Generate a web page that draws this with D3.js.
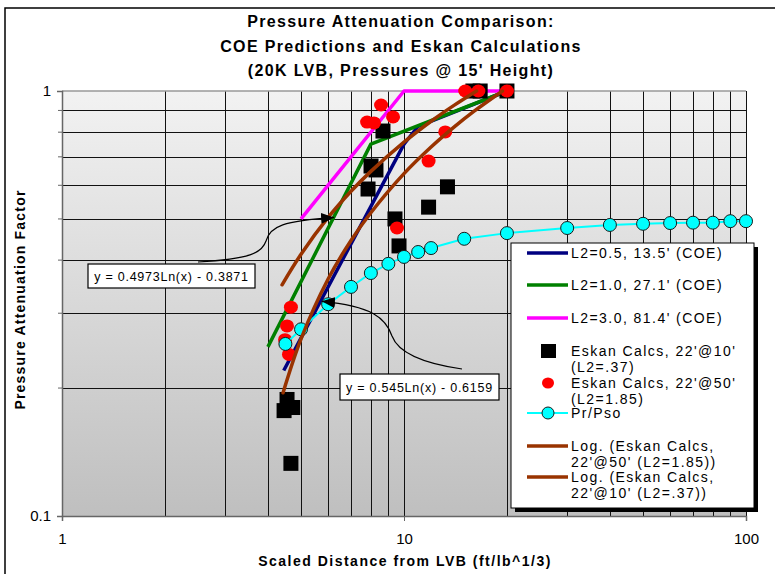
<!DOCTYPE html>
<html><head><meta charset="utf-8">
<script src="https://cdn.jsdelivr.net/npm/d3@7"></script>
<style>body{margin:0;background:#fff}svg{display:block}</style>
</head><body>
<svg id="chart" width="775" height="574"></svg>
<script>
// ---------- data ----------
const titleLines = ["Pressure Attenuation Comparison:", "COE Predictions and Eskan Calculations", "(20K LVB, Pressures @ 15' Height)"];
const xAxisTitle = "Scaled Distance from LVB (ft/lb^1/3)";
const yAxisTitle = "Pressure Attenuation Factor";
const xTickValues = [1, 10, 100];
const yTickValues = [0.1, 1];

const coe05X = [4.45, 10, 11, 20];
const coe05Y = [0.22, 0.75, 0.826, 1.0];
const coe10X = [4, 8, 20];
const coe10Y = [0.25, 0.75, 1.0];
const coe30X = [5, 10, 20];
const coe30Y = [0.5, 1.0, 1.0];

const eskan10X = [4.55, 4.73, 4.46, 4.67, 8.68, 8.01, 8.28, 7.85, 9.41, 9.67, 11.8, 13.4, 15.9, 16.7, 20];
const eskan10Y = [0.188, 0.180, 0.177, 0.133, 0.805, 0.666, 0.652, 0.588, 0.50, 0.432, 0.533, 0.595, 1.0, 1.0, 1.0];

const eskan50X = [8.57, 9.29, 7.80, 8.17, 13.2, 11.8, 9.54, 15.1, 16.5, 20, 4.67, 4.55, 4.49, 4.61];
const eskan50Y = [0.927, 0.869, 0.845, 0.841, 0.801, 0.684, 0.476, 1.0, 1.0, 1.0, 0.310, 0.280, 0.260, 0.240];

const prX = [4.5, 5, 6, 7, 8, 9, 10, 11, 12, 15, 20, 30, 40, 50, 60, 70, 80, 90, 100];
const prY = [0.254, 0.275, 0.315, 0.346, 0.373, 0.392, 0.407, 0.418, 0.427, 0.449, 0.463, 0.476, 0.484, 0.487, 0.489, 0.490, 0.490, 0.494, 0.494];

const trend50X = [4.4, 5, 6, 7, 8, 10, 12, 14, 16.3];
const trend50Y = [0.350, 0.413, 0.504, 0.581, 0.647, 0.758, 0.849, 0.925, 1.0];
const trend10X = [4.43, 5, 6, 7, 8, 10, 12, 14, 16, 19.4];
const trend10Y = [0.195, 0.261, 0.361, 0.445, 0.517, 0.639, 0.738, 0.822, 0.895, 1.0];

const eq50Label = "y = 0.4973Ln(x) - 0.3871";
const eq10Label = "y = 0.545Ln(x) - 0.6159";

const legendLabels = [
  ["L2=0.5, 13.5' (COE)"],
  ["L2=1.0, 27.1' (COE)"],
  ["L2=3.0, 81.4' (COE)"],
  ["Eskan Calcs, 22'@10'", "(L2=.37)"],
  ["Eskan Calcs, 22'@50'", "(L2=1.85)"],
  ["Pr/Pso"],
  ["Log. (Eskan Calcs,", "22'@50' (L2=1.85))"],
  ["Log. (Eskan Calcs,", "22'@10' (L2=.37))"]
];

// ---------- setup ----------
const svg = d3.select("#chart");
const W = 775, H = 574;
const plot = {l: 62, r: 746, t: 91, b: 516};
const x = d3.scaleLog().domain([1, 100]).range([plot.l, plot.r]);
const y = d3.scaleLog().domain([0.1, 1]).range([plot.b, plot.t]);
const FONT = "'Liberation Sans', Arial, sans-serif";

svg.append("rect").attr("width", W).attr("height", H).attr("fill", "#fff");

const defs = svg.append("defs");
const grad = defs.append("linearGradient").attr("id", "bg").attr("x1", 0).attr("y1", 0).attr("x2", 0).attr("y2", 1);
grad.append("stop").attr("offset", "0%").attr("stop-color", "#f2f2f2");
grad.append("stop").attr("offset", "100%").attr("stop-color", "#bfbfbf");
defs.append("marker").attr("id", "arrow").attr("markerUnits", "userSpaceOnUse")
  .attr("markerWidth", 14).attr("markerHeight", 12).attr("refX", 13).attr("refY", 5.5)
  .attr("orient", "auto")
  .append("path").attr("d", "M0,0 L13,5.5 L0,11 Z").attr("fill", "#000");

// chart frame (outer)
svg.append("path").attr("d", `M5,${H} L5,8 L${W},8`).attr("fill", "none").attr("stroke", "#000").attr("stroke-width", 1.5);

// plot background
svg.append("rect").attr("x", plot.l).attr("y", plot.t).attr("width", plot.r - plot.l).attr("height", plot.b - plot.t)
  .attr("fill", "url(#bg)");

// grid
const xGrid = [];
for (let d = 1; d <= 10; d *= 10) for (let m = 2; m <= 10; m++) xGrid.push(d * m);
const yGrid = [0.2, 0.3, 0.4, 0.5, 0.6, 0.7, 0.8, 0.9];
const g = svg.append("g");
g.selectAll("line.vx").data(xGrid).join("line")
  .attr("x1", d => Math.round(x(d)) + 0.5).attr("x2", d => Math.round(x(d)) + 0.5).attr("y1", plot.t).attr("y2", plot.b)
  .attr("stroke", "#111").attr("stroke-width", 1);
g.selectAll("line.hy").data(yGrid).join("line")
  .attr("x1", plot.l).attr("x2", plot.r).attr("y1", d => Math.round(y(d)) + 0.5).attr("y2", d => Math.round(y(d)) + 0.5)
  .attr("stroke", "#111").attr("stroke-width", 1);
svg.append("line").attr("x1", plot.l).attr("x2", plot.r).attr("y1", plot.t).attr("y2", plot.t)
  .attr("stroke", "#999").attr("stroke-width", 1.5);

// axes
const xAxis = d3.axisBottom(x).tickValues(xTickValues).tickFormat(d3.format("d")).tickSize(5).tickPadding(12);
const yAxis = d3.axisLeft(y).tickValues(yTickValues).tickFormat(d => d === 1 ? "1" : "0.1").tickSize(5).tickPadding(6);
const gx = svg.append("g").attr("transform", `translate(0,${plot.b})`).call(xAxis);
const gy = svg.append("g").attr("transform", `translate(${plot.l},0)`).call(yAxis);
[gx, gy].forEach(a => {
  a.select(".domain").attr("stroke", "#666").attr("stroke-width", 1.5);
  a.selectAll(".tick line").attr("stroke", "#666");
  a.selectAll("text").attr("font-family", FONT).attr("font-size", 15).attr("fill", "#000");
});
svg.selectAll("line.ym").data(yGrid).join("line")
  .attr("x1", plot.l - 4).attr("x2", plot.l).attr("y1", d => y(d)).attr("y2", d => y(d))
  .attr("stroke", "#666");

// ---------- series ----------
const zip = (xs, ys) => xs.map((v, i) => [v, ys[i]]);
const line = d3.line().x(d => x(d[0])).y(d => y(d[1]));
const smooth = d3.line().x(d => x(d[0])).y(d => y(d[1])).curve(d3.curveCatmullRom);

const lineSeries = [
  {data: zip(coe05X, coe05Y), color: "#000080"},
  {data: zip(coe10X, coe10Y), color: "#008000"},
  {data: zip(coe30X, coe30Y), color: "#ff00ff"}
];
lineSeries.forEach(s => svg.append("path").attr("d", line(s.data)).attr("fill", "none")
  .attr("stroke", s.color).attr("stroke-width", 3.5).attr("stroke-linejoin", "round"));

svg.selectAll("rect.sq").data(zip(eskan10X, eskan10Y)).join("rect")
  .attr("x", d => x(d[0]) - 7.5).attr("y", d => y(d[1]) - 7.5).attr("width", 15).attr("height", 15).attr("fill", "#000");

svg.selectAll("ellipse.rd").data(zip(eskan50X, eskan50Y)).join("ellipse")
  .attr("cx", d => x(d[0])).attr("cy", d => y(d[1])).attr("rx", 7).attr("ry", 6.5).attr("fill", "#ff0000");

const prData = zip(prX, prY);
svg.append("path").attr("d", line(prData)).attr("fill", "none").attr("stroke", "#00ffff").attr("stroke-width", 2);
svg.selectAll("circle.pr").data(prData).join("circle")
  .attr("cx", d => x(d[0])).attr("cy", d => y(d[1])).attr("r", 6.5)
  .attr("fill", "#00ffff").attr("stroke", "#1a1a1a").attr("stroke-width", 1);

[zip(trend50X, trend50Y), zip(trend10X, trend10Y)].forEach(dd =>
  svg.append("path").attr("d", smooth(dd)).attr("fill", "none").attr("stroke", "#993300")
    .attr("stroke-width", 3.5).attr("stroke-linecap", "round"));

// ---------- trendline equation labels ----------
function eqBox(label, bx, by, w, h) {
  svg.append("rect").attr("x", bx).attr("y", by).attr("width", w).attr("height", h)
    .attr("fill", "#fff").attr("stroke", "#000").attr("stroke-width", 1.2);
  svg.append("text").attr("x", bx + w / 2).attr("y", by + h / 2 + 4.5).attr("text-anchor", "middle")
    .attr("font-family", FONT).attr("font-size", 12.5).attr("letter-spacing", 0.75).text(label);
}
{
  const sx = 198, sy = 262, ex = x(6) + 6, ey = y(0.504);
  svg.append("path")
    .attr("d", `M${sx},${sy} C250,259 262,253 266,241 C270,226 284,221 ${ex},${ey}`)
    .attr("fill", "none").attr("stroke", "#000").attr("stroke-width", 1.2).attr("marker-end", "url(#arrow)");
}
{
  const sx = 462, sy = 369, ex = x(5.75), ey = y(0.32);
  svg.append("path")
    .attr("d", `M${sx},${sy} C420,363 398,352 392,336 C386,318 372,306 ${ex},${ey}`)
    .attr("fill", "none").attr("stroke", "#000").attr("stroke-width", 1.2).attr("marker-end", "url(#arrow)");
}
eqBox(eq50Label, 88, 264, 167, 24);
eqBox(eq10Label, 340, 374, 159, 26);

// ---------- legend ----------
const L = {x: 511, y: 243, w: 243, h: 265};
svg.append("rect").attr("x", L.x + 4).attr("y", L.y + 4).attr("width", L.w).attr("height", L.h).attr("fill", "#000");
svg.append("rect").attr("x", L.x).attr("y", L.y).attr("width", L.w).attr("height", L.h)
  .attr("fill", "#fff").attr("stroke", "#000").attr("stroke-width", 1);
const legendY = [253, 285, 318, 351, 383, 413, 446, 477];
const legendKinds = ["line", "line", "line", "square", "dot", "pr", "line", "line"];
const legendColors = ["#000080", "#008000", "#ff00ff", "#000", "#ff0000", "#00ffff", "#993300", "#993300"];
legendLabels.forEach((lines, i) => {
  const cy = legendY[i], k = legendKinds[i], c = legendColors[i];
  if (k === "line" || k === "pr") {
    svg.append("line").attr("x1", 527).attr("x2", 568).attr("y1", cy).attr("y2", cy)
      .attr("stroke", c).attr("stroke-width", k === "pr" ? 2 : 3.5);
  }
  if (k === "pr") svg.append("circle").attr("cx", 548).attr("cy", cy).attr("r", 6)
    .attr("fill", c).attr("stroke", "#1a1a1a");
  if (k === "square") svg.append("rect").attr("x", 541).attr("y", cy - 7).attr("width", 15).attr("height", 14).attr("fill", c);
  if (k === "dot") svg.append("ellipse").attr("cx", 548).attr("cy", cy).attr("rx", 6).attr("ry", 5.5).attr("fill", c);
  lines.forEach((t, j) => svg.append("text").attr("x", 571).attr("y", cy + 5 + j * 15.5)
    .attr("font-family", FONT).attr("font-size", 14).attr("letter-spacing", 1.45).text(t));
});

// ---------- titles ----------
titleLines.forEach((t, i) => svg.append("text").attr("x", 401).attr("y", 27 + i * 24.5)
  .attr("text-anchor", "middle").attr("font-family", FONT).attr("font-weight", "bold")
  .attr("font-size", 16).attr("letter-spacing", 1.35).text(t));
svg.append("text").attr("x", 405).attr("y", 566).attr("text-anchor", "middle")
  .attr("font-family", FONT).attr("font-weight", "bold").attr("font-size", 14).attr("letter-spacing", 1.5).text(xAxisTitle);
svg.append("text").attr("transform", `translate(25,${(plot.t + plot.b) / 2 - 4}) rotate(-90)`).attr("text-anchor", "middle")
  .attr("font-family", FONT).attr("font-weight", "bold").attr("font-size", 14).attr("letter-spacing", 1.2).text(yAxisTitle);
</script>
</body></html>
